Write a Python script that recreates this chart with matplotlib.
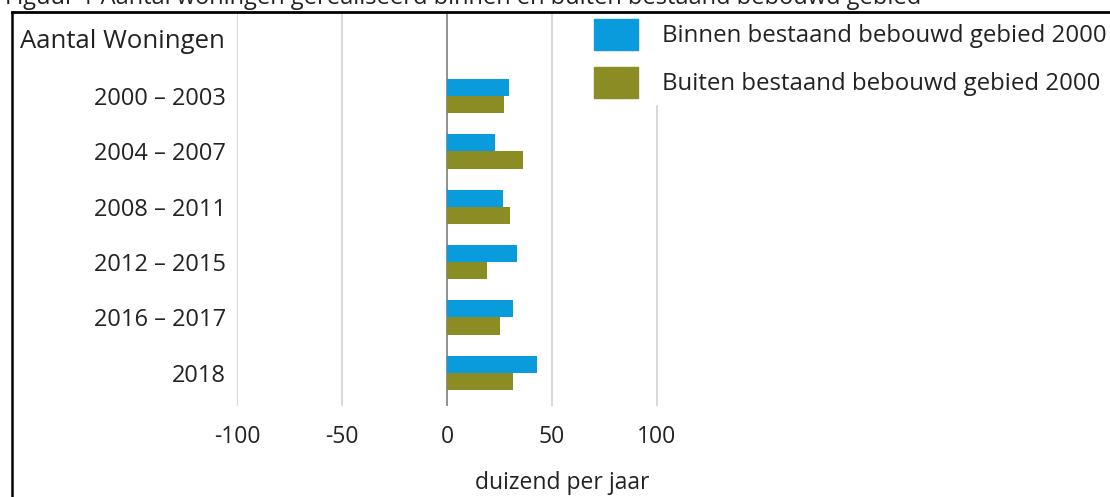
import matplotlib.pyplot as plt
from matplotlib.patches import Rectangle
from matplotlib.lines import Line2D
import numpy as np

plt.rcParams['font.family'] = ['Open Sans', 'DejaVu Sans']

# data (duizend woningen per jaar)
periods = ['2000 – 2003', '2004 – 2007', '2008 – 2011', '2012 – 2015', '2016 – 2017', '2018']
binnen = [29.5, 23, 26.5, 33.5, 31.5, 43]
buiten = [27, 36, 30, 19, 25, 31.5]
series_names = ['Binnen bestaand bebouwd gebied 2000', 'Buiten bestaand bebouwd gebied 2000']
xticks = [-100, -50, 0, 50, 100]

blue = '#0A9BDC'
green = '#8B8C23'

fig = plt.figure(figsize=(11.1, 4.97), dpi=100)
ax = fig.add_axes([237 / 1110, 91 / 497, 630 / 1110, 394 / 497])

y = np.arange(len(periods))
h = 0.31
ax.barh(y - h / 2, binnen, height=h, color=blue, zorder=3)
ax.barh(y + h / 2, buiten, height=h, color=green, zorder=3)

ax.set_xlim(-100, 200)
ax.set_ylim(5.6, -1.52)
ax.set_xticks(xticks)
ax.set_xticklabels([str(t) for t in xticks], fontsize=16.5, color='#222222')
ax.set_yticks(y)
ax.set_yticklabels(periods, fontsize=17, color='#222222')
ax.tick_params(length=0)
ax.tick_params(axis='y', pad=8)
ax.tick_params(axis='x', pad=14)
for s in ax.spines.values():
    s.set_visible(False)
for t in xticks:
    ax.axvline(t, color='#888888' if t == 0 else '#D6D6D6', lw=1.3, zorder=2)

# labels
fig.text(225 / 1110, 1 - 42 / 497, 'Aantal Woningen', ha='right', va='center', fontsize=18.5, color='#222222')
fig.text(562 / 1110, 1 - 483 / 497, 'duizend per jaar', ha='center', va='center', fontsize=16.5, color='#222222')
fig.text(5 / 1110, 1 - 4 / 497, 'Figuur 1 Aantal woningen gerealiseerd binnen en buiten bestaand bebouwd gebied',
         ha='left', va='baseline', fontsize=17, color='#222222')

# legend
fig.add_artist(Rectangle((585 / 1110, 1 - 104 / 497), 525 / 1110, 92 / 497,
                         transform=fig.transFigure, color='white', zorder=2))
for i, (name, col) in enumerate(zip(series_names, [blue, green])):
    top = [19, 67][i]
    fig.add_artist(Rectangle((594 / 1110, 1 - (top + 31) / 497), 44 / 1110, 31 / 497,
                             transform=fig.transFigure, color=col, zorder=3))
    fig.text(662 / 1110, 1 - [36, 84][i] / 497, name, ha='left', va='center',
             fontsize=17.3, color='#222222', zorder=3)

# frame
fig.add_artist(Line2D([12 / 1110, 1], [1 - 12 / 497] * 2, transform=fig.transFigure, color='black', lw=2, zorder=4))
fig.add_artist(Line2D([12 / 1110] * 2, [0, 1 - 12 / 497], transform=fig.transFigure, color='black', lw=1.8, zorder=4))

fig.savefig('out.png', dpi=100)
